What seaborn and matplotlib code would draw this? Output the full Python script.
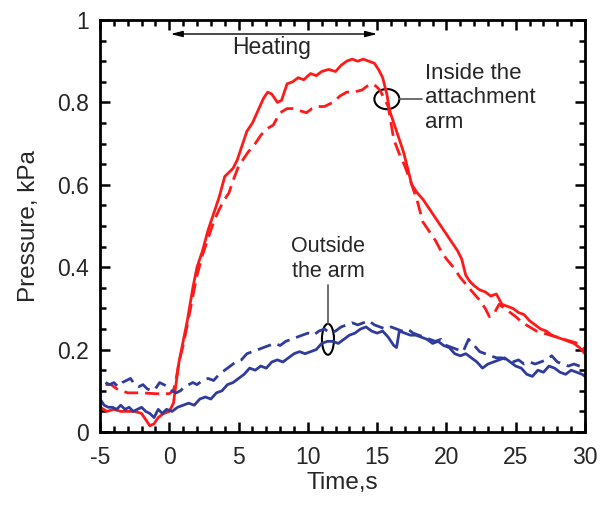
import matplotlib
matplotlib.use("Agg")
import matplotlib.pyplot as plt
from matplotlib.patches import Ellipse
from matplotlib.ticker import MultipleLocator
import numpy as np
import pandas as pd
import seaborn as sns

# Pressure traces, kPa, against time, s
inside_solid_t = [-5.0, -4.5, -4.0, -3.5, -3.0, -2.5, -2.0, -1.7, -1.4, -1.1, -0.8, -0.4, 0.0, 0.3, 0.5, 0.7,
                  1.0, 1.3, 1.7, 2.0, 2.4, 2.8, 3.2, 3.6, 4.0, 4.3, 4.6, 4.9, 5.3, 5.6, 6.0, 6.4, 6.8, 7.1,
                  7.4, 7.8, 8.1, 8.5, 8.9, 9.3, 9.7, 10.2, 10.6, 11.0, 11.5, 12.0, 12.4, 12.8, 13.2, 13.6,
                  14.0, 14.4, 14.8, 15.1, 15.4, 15.7, 15.9, 16.2, 16.5, 16.9, 17.2, 17.5, 17.9, 18.3, 18.8,
                  19.2, 19.6, 20.0, 20.4, 20.8, 21.1, 21.4, 21.7, 22.0, 22.4, 22.8, 23.2, 23.6, 24.0, 24.4,
                  24.8, 25.2, 25.6, 26.0, 26.4, 26.8, 27.2, 27.6, 28.0, 28.4, 28.8, 29.2, 29.6, 30.0]
inside_solid_p = [0.06, 0.05, 0.055, 0.05, 0.05, 0.05, 0.045, 0.03, 0.015, 0.02, 0.035, 0.045, 0.05, 0.07, 0.12, 0.17,
                  0.22, 0.27, 0.35, 0.40, 0.44, 0.49, 0.53, 0.57, 0.62, 0.63, 0.64, 0.66, 0.70, 0.73, 0.75, 0.78, 0.81, 0.825,
                  0.82, 0.80, 0.805, 0.845, 0.85, 0.86, 0.855, 0.87, 0.865, 0.875, 0.88, 0.875, 0.89, 0.90, 0.905, 0.90,
                  0.905, 0.90, 0.895, 0.88, 0.86, 0.82, 0.78, 0.75, 0.72, 0.68, 0.64, 0.60, 0.58, 0.565, 0.54,
                  0.52, 0.50, 0.48, 0.46, 0.44, 0.42, 0.38, 0.365, 0.355, 0.345, 0.34, 0.33, 0.335, 0.31, 0.305,
                  0.30, 0.29, 0.285, 0.27, 0.26, 0.25, 0.245, 0.235, 0.23, 0.225, 0.22, 0.215, 0.205, 0.19]

inside_dash_t = [-4.6, -4.2, -3.8, -3.4, -3.0, -2.0, -1.0, 0.0, 0.3, 0.5, 0.7, 1.0, 1.3, 1.7, 2.0, 2.4, 2.8,
                 3.2, 3.6, 4.0, 4.3, 4.6, 5.0, 5.3, 5.7, 6.2, 6.6, 7.0, 7.5, 8.0, 8.5, 8.9, 9.4, 9.9, 10.3,
                 10.7, 11.2, 11.8, 12.3, 12.8, 13.3, 13.9, 14.3, 14.6, 14.9, 15.2, 15.5, 15.8, 16.0, 16.2,
                 16.6, 17.0, 17.5, 17.9, 18.3, 18.7, 19.2, 19.6, 20.0, 20.5, 21.0, 21.5, 22.0, 22.4, 22.8,
                 23.1, 23.4, 23.8, 24.2, 24.6, 25.0, 25.5, 26.0, 26.5, 27.0, 27.5, 28.0, 28.5, 29.0, 29.5, 30.0]
inside_dash_p = [0.115, 0.115, 0.105, 0.10, 0.095, 0.095, 0.093, 0.093, 0.10, 0.13, 0.17, 0.21, 0.26, 0.33, 0.38, 0.43, 0.47,
                 0.51, 0.54, 0.565, 0.58, 0.61, 0.645, 0.66, 0.68, 0.70, 0.72, 0.735, 0.745, 0.775, 0.785, 0.785, 0.78, 0.775, 0.785,
                 0.79, 0.79, 0.80, 0.815, 0.825, 0.825, 0.83, 0.84, 0.845, 0.84, 0.83, 0.81, 0.79, 0.75, 0.71,
                 0.675, 0.645, 0.60, 0.56, 0.51, 0.49, 0.465, 0.44, 0.42, 0.40, 0.375, 0.355, 0.335, 0.32, 0.30,
                 0.28, 0.285, 0.31, 0.30, 0.29, 0.28, 0.265, 0.255, 0.245, 0.24, 0.235, 0.23, 0.225, 0.22, 0.215, 0.20]

outside_solid_t = [-5.0, -4.7, -4.4, -4.1, -3.8, -3.5, -3.2, -2.9, -2.6, -2.3, -2.0, -1.7, -1.4, -1.1, -0.8, -0.5,
                   -0.2, 0.2, 0.6, 1.0, 1.4, 1.8, 2.2, 2.6, 3.0, 3.4, 3.8, 4.2, 4.6, 5.0, 5.4, 5.8, 6.2, 6.6,
                   7.0, 7.4, 7.8, 8.2, 8.6, 9.0, 9.4, 9.8, 10.2, 10.6, 11.0, 11.4, 11.8, 12.2, 12.6, 13.0, 13.4,
                   13.8, 14.2, 14.6, 15.0, 15.4, 15.8, 16.2, 16.4, 16.6, 17.0, 17.4, 17.8, 18.2, 18.6, 19.0,
                   19.4, 19.8, 20.2, 20.6, 21.0, 21.4, 21.8, 22.2, 22.6, 23.0, 23.4, 23.8, 24.2, 24.6, 25.0,
                   25.4, 25.8, 26.2, 26.6, 27.0, 27.4, 27.8, 28.2, 28.6, 29.0, 29.4, 29.8, 30.0]
outside_solid_p = [0.08, 0.065, 0.06, 0.06, 0.055, 0.065, 0.055, 0.06, 0.05, 0.055, 0.06, 0.05, 0.045, 0.035, 0.055, 0.045,
                   0.055, 0.05, 0.06, 0.065, 0.07, 0.065, 0.08, 0.085, 0.08, 0.095, 0.10, 0.115, 0.12, 0.13, 0.14, 0.155, 0.15, 0.16,
                   0.155, 0.17, 0.175, 0.17, 0.18, 0.19, 0.195, 0.19, 0.195, 0.20, 0.215, 0.22, 0.22, 0.215, 0.225, 0.235, 0.24,
                   0.25, 0.255, 0.245, 0.24, 0.245, 0.23, 0.21, 0.205, 0.245, 0.24, 0.235, 0.235, 0.23, 0.225, 0.215,
                   0.22, 0.21, 0.205, 0.19, 0.185, 0.19, 0.18, 0.17, 0.155, 0.165, 0.17, 0.175, 0.18, 0.17, 0.16,
                   0.155, 0.14, 0.135, 0.15, 0.145, 0.16, 0.155, 0.145, 0.14, 0.15, 0.145, 0.14, 0.135]

outside_dash_t = [-4.6, -4.3, -4.0, -3.7, -3.4, -3.1, -2.8, -2.5, -2.2, -1.9, -1.6, -1.3, -1.0, -0.7, -0.4, -0.1,
                  0.2, 0.5, 0.8, 1.1, 1.4, 1.7, 2.0, 2.4, 2.8, 3.2, 3.6, 4.0, 4.4, 4.8, 5.2, 5.6, 6.0, 6.4, 6.8,
                  7.2, 7.6, 8.0, 8.4, 8.8, 9.2, 9.6, 10.0, 10.4, 10.8, 11.2, 11.6, 12.0, 12.4, 12.8, 13.2, 13.6,
                  14.0, 14.4, 14.8, 15.2, 15.6, 16.0, 16.4, 16.8, 17.2, 17.6, 18.0, 18.4, 18.8, 19.2, 19.6,
                  20.0, 20.4, 20.8, 21.2, 21.6, 22.0, 22.4, 22.8, 23.2, 23.6, 24.0, 24.4, 24.8, 25.2, 25.6,
                  26.0, 26.4, 26.8, 27.2, 27.6, 28.0, 28.4, 28.8, 29.2, 29.6, 30.0]
outside_dash_p = [0.12, 0.115, 0.12, 0.11, 0.12, 0.125, 0.13, 0.115, 0.11, 0.115, 0.105, 0.10, 0.105, 0.12, 0.115, 0.11,
                  0.10, 0.095, 0.10, 0.11, 0.115, 0.12, 0.115, 0.125, 0.13, 0.125, 0.14, 0.15, 0.16, 0.17, 0.175, 0.19, 0.195, 0.20, 0.205,
                  0.21, 0.215, 0.21, 0.22, 0.225, 0.23, 0.235, 0.24, 0.235, 0.245, 0.25, 0.24, 0.245, 0.255, 0.26, 0.265, 0.26,
                  0.265, 0.27, 0.26, 0.255, 0.25, 0.255, 0.25, 0.245, 0.25, 0.24, 0.235, 0.23, 0.225, 0.22, 0.225,
                  0.21, 0.205, 0.20, 0.195, 0.225, 0.21, 0.195, 0.19, 0.185, 0.18, 0.18, 0.175, 0.17, 0.175, 0.165,
                  0.17, 0.165, 0.17, 0.175, 0.185, 0.17, 0.165, 0.16, 0.165, 0.16, 0.155]

x_ticks = [-5, 0, 5, 10, 15, 20, 25, 30]
y_ticks = [0, 0.2, 0.4, 0.6, 0.8, 1]
y_tick_labels = ["0", "0.2", "0.4", "0.6", "0.8", "1"]

RED = "#FF1A1A"
BLUE = "#2F3C9C"

frames = []
for name, t, p in [("in_solid", inside_solid_t, inside_solid_p),
                   ("in_dash", inside_dash_t, inside_dash_p),
                   ("out_solid", outside_solid_t, outside_solid_p),
                   ("out_dash", outside_dash_t, outside_dash_p)]:
    frames.append(pd.DataFrame({"time": t, "pressure": p, "trace": name}))
df = pd.concat(frames, ignore_index=True)

sns.set_style("ticks")
plt.rcParams["font.family"] = ["Liberation Sans", "DejaVu Sans"]
plt.rcParams["axes.unicode_minus"] = False

fig = plt.figure(figsize=(6.02, 5.05), dpi=100)
ax = fig.add_axes([100 / 602, 73 / 505, 485 / 602, 412 / 505])

palette = {"in_solid": RED, "in_dash": RED, "out_solid": BLUE, "out_dash": BLUE}
dashes = {"in_solid": "", "in_dash": (5, 2.5), "out_solid": "", "out_dash": (5, 2.5)}
sns.lineplot(data=df, x="time", y="pressure", hue="trace", style="trace",
             palette=palette, dashes=dashes, estimator=None, sort=False,
             linewidth=2.0, legend=False, ax=ax)

ax.set_xlim(-5, 30)
ax.set_ylim(0, 1)
ax.set_xticks(x_ticks)
ax.set_yticks(y_ticks)
ax.set_yticklabels(y_tick_labels)
ax.xaxis.set_minor_locator(MultipleLocator(1))
ax.yaxis.set_minor_locator(MultipleLocator(0.05))
ax.tick_params(which="both", direction="in", top=True, right=True, width=1.8, color="black")
ax.tick_params(which="major", length=7, labelsize=16.5)
ax.tick_params(axis="x", which="major", pad=10)
ax.tick_params(axis="y", which="major", pad=8)
ax.tick_params(which="minor", length=4)
for s in ax.spines.values():
    s.set_linewidth(2.0)
    s.set_color("black")

ax.set_xlabel("Time,s", fontsize=17.5, labelpad=2)
ax.set_ylabel("Pressure, kPa", fontsize=17.5, labelpad=12)

# Heating interval
ax.annotate("", xy=(0.1, 0.966), xytext=(15.0, 0.966),
            arrowprops=dict(arrowstyle="<|-|>,head_length=0.7,head_width=0.18",
                            lw=1.0, color="black", shrinkA=0, shrinkB=0))
ax.text(7.4, 0.934, "Heating", ha="center", va="center", fontsize=16.5)

# Inside the attachment arm callout
ax.add_patch(Ellipse((15.7, 0.808), 1.8, 0.049, fill=False, lw=1.5, ec="black"))
ax.plot([16.6, 18.25], [0.808, 0.808], color="#555555", lw=1.2)
ax.text(18.45, 0.811, "Inside the\nattachment\narm", ha="left", va="center",
        fontsize=16, linespacing=1.24)

# Outside the arm callout
ax.add_patch(Ellipse((11.45, 0.225), 0.87, 0.075, fill=False, lw=1.5, ec="black"))
ax.plot([11.45, 11.45], [0.2625, 0.357], color="#555555", lw=1.2)
ax.text(11.45, 0.421, "Outside\nthe arm", ha="center", va="center",
        fontsize=15.5, linespacing=1.25)

fig.savefig("out.png", dpi=100)
